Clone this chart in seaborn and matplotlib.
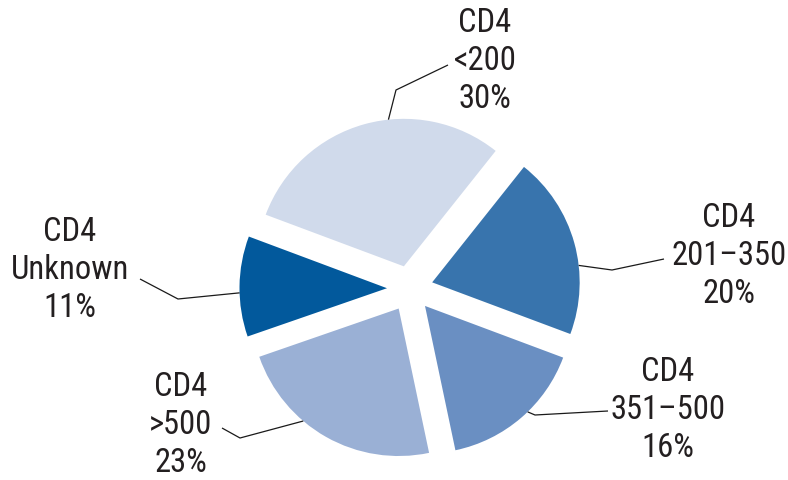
import matplotlib
matplotlib.use("Agg")
import matplotlib.pyplot as plt
import numpy as np
import seaborn as sns

# CD4 count distribution at diagnosis
categories = ["CD4\n<200", "CD4\n201\u2013350", "CD4\n351\u2013500", "CD4\n>500", "CD4\nUnknown"]
shares = [30, 20, 16, 23, 11]
colors = ["#D0DAEB", "#3874AD", "#6A8FC2", "#9AB0D5", "#02599C"]

sns.set_theme(style="white")
plt.rcParams["font.family"] = ["Roboto Condensed", "Archivo Narrow", "DejaVu Sans"]

W, H = 788, 480
fig = plt.figure(figsize=(W / 100, H / 100), dpi=100)
ax = fig.add_axes([0, 0, 1, 1])

center = (410, H - 288.5)
radius = 147.5
gap = 23  # explode offset, in the same units as the radius
wedges, _ = ax.pie(
    shares,
    colors=colors,
    startangle=159.5,
    counterclock=False,
    explode=[gap] * len(shares),
    radius=radius,
    center=center,
    wedgeprops=dict(linewidth=0),
)
# pie() resets the limits, so fix the canvas afterwards
ax.set_xlim(0, W)
ax.set_ylim(0, H)
ax.set_aspect("equal")
ax.axis("off")

# label layout: text centre, leader start near text, elbow, attach angle on arc
label_layout = [
    dict(text=(485, 61), start=(448, 65), elbow=(396, 90), angle=96),
    dict(text=(729, 256), start=(664, 259), elbow=(612, 270), angle=6.6),
    dict(text=(668, 410), start=(608, 411), elbow=(535, 415), angle=-45.9),
    dict(text=(181, 425), start=(222, 428), elbow=(240, 438), angle=-130.3),
    dict(text=(70, 270), start=(140, 279), elbow=(178, 299), angle=181.8),
]

for w, cat, val, lay in zip(wedges, categories, shares, label_layout):
    cx, cy = w.center
    a = np.deg2rad(lay["angle"])
    px, py = cx + w.r * np.cos(a), cy + w.r * np.sin(a)
    xs = [lay["start"][0], lay["elbow"][0], px]
    ys = [H - lay["start"][1], H - lay["elbow"][1], py]
    ax.plot(xs, ys, color="#1a1a1a", lw=0.9, solid_capstyle="butt", zorder=3)
    ax.text(lay["text"][0], H - lay["text"][1], f"{cat}\n{val}%",
            ha="center", va="center", multialignment="center",
            fontsize=23.5, color="#231f20", linespacing=1.25)

fig.savefig("out.png", dpi=100)
